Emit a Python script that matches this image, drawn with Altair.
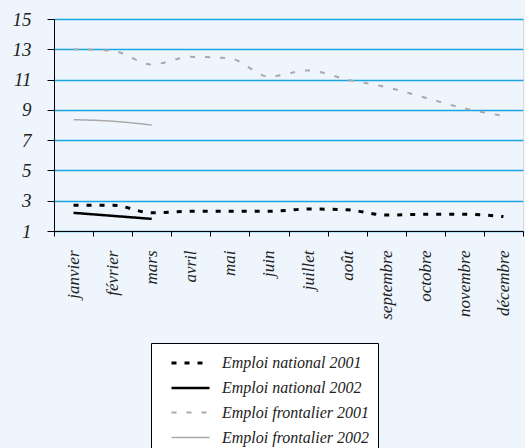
import altair as alt
import pandas as pd

months = ["janvier", "février", "mars", "avril", "mai", "juin", "juillet",
          "août", "septembre", "octobre", "novembre", "décembre"]
series_names = ["Emploi national 2001", "Emploi national 2002",
                "Emploi frontalier 2001", "Emploi frontalier 2002"]

national_2001 = [2.7, 2.7, 2.2, 2.3, 2.3, 2.3, 2.45, 2.4, 2.05, 2.1, 2.1, 1.95]
national_2002 = [2.2, 2.0, 1.8]
frontalier_2001 = [13.0, 12.9, 12.0, 12.5, 12.4, 11.2, 11.6, 11.0, 10.5, 9.8, 9.1, 8.6]
frontalier_2002 = [8.35, 8.25, 8.0]

rows = []
for name, vals in zip(series_names, [national_2001, national_2002, frontalier_2001, frontalier_2002]):
    for m, v in zip(months, vals):
        rows.append({"mois": m, "valeur": v, "serie": name})
df = pd.DataFrame(rows)

FONT = "Times New Roman, Liberation Serif, Tinos, DejaVu Serif, serif"

chart = alt.Chart(df).mark_line(interpolate="monotone").encode(
    x=alt.X("mois:O", sort=months, bandPosition=0.5,
            scale=alt.Scale(type="band", paddingInner=0, paddingOuter=0),
            axis=alt.Axis(title=None, tickBand="extent", labelAngle=-90,
                          labelAlign="right", labelBaseline="middle",
                          tickSize=5, labelPadding=14, domainColor="black",
                          tickColor="black", labelFont=FONT, labelFontStyle="italic",
                          labelFontSize=17, labelColor="#222", zindex=1)),
    y=alt.Y("valeur:Q", scale=alt.Scale(domain=[1, 15], nice=False, zero=False),
            axis=alt.Axis(title=None, values=[1, 3, 5, 7, 9, 11, 13, 15],
                          grid=True, gridColor="#1AA6E2", gridWidth=1.5,
                          tickSize=7, labelPadding=16, domainColor="black",
                          tickColor="black", labelFont=FONT, labelFontStyle="italic",
                          labelFontSize=19, labelColor="#222")),
    color=alt.Color("serie:N", sort=series_names,
                    scale=alt.Scale(domain=series_names,
                                    range=["#000000", "#000000", "#A9A9A9", "#A9A9A9"]),
                    legend=alt.Legend(title=None, orient="none", legendX=97, legendY=324,
                                      fillColor="white", strokeColor="black",
                                      padding=9, symbolOffset=19.5,
                                      symbolType="M-2,0H2", symbolSize=361,
                                      labelFont=FONT, labelFontStyle="italic",
                                      labelFontSize=16, labelColor="#222",
                                      labelLimit=300,
                                      rowPadding=6, labelOffset=20.5,
                                      cornerRadius=0)),
    strokeDash=alt.StrokeDash("serie:N", sort=series_names,
                              scale=alt.Scale(domain=series_names,
                                              range=[[5, 8], [1, 0], [5, 10], [1, 0]])),
    strokeWidth=alt.StrokeWidth("serie:N", sort=series_names,
                                scale=alt.Scale(domain=series_names,
                                                range=[3, 1.5, 2.5, 1.5])),
).properties(
    width=469, height=212,
    autosize=alt.AutoSizeParams(type="none"),
    padding={"left": 54, "top": 19, "right": 2, "bottom": 217},
    background="#EEF5FC",
).configure_view(stroke=None).configure(font=FONT)

chart.save("out.html", embed_options={"renderer": "svg", "actions": False})
